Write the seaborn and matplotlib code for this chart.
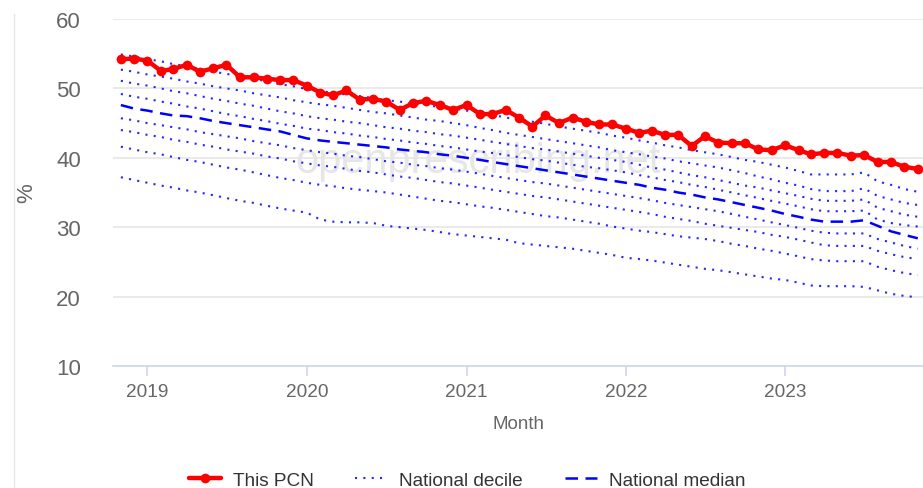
import matplotlib.pyplot as plt
import matplotlib.dates as mdates
from matplotlib.lines import Line2D
import pandas as pd
import seaborn as sns

# monthly points, Nov 2018 .. Nov 2023
months = pd.date_range("2018-11-01", "2023-11-01", freq="MS")

this_pcn = [54.2, 54.3, 54.0, 52.5, 52.8, 53.4, 52.4, 52.9, 53.4, 51.6, 51.6, 51.4, 51.2, 51.2,
            50.4, 49.4, 49.0, 49.7, 48.4, 48.5, 48.1, 46.9, 47.9, 48.2, 47.6, 46.9,
            47.6, 46.3, 46.3, 46.9, 45.8, 44.5, 46.1, 45.0, 45.8, 45.2, 44.8, 44.8,
            44.2, 43.6, 43.9, 43.3, 43.3, 41.7, 43.1, 42.2, 42.1, 42.1, 41.2, 41.1,
            41.8, 41.1, 40.5, 40.7, 40.7, 40.3, 40.4, 39.4, 39.4, 38.7, 38.4]

p90 = [54.9, 54.6, 54.2, 53.9, 53.5, 53.2, 52.8, 52.4, 52.1, 51.7, 51.4, 51.0, 50.6, 50.3,
       49.9, 49.6, 49.4, 49.1, 48.9, 48.6, 48.3, 48.1, 47.8, 47.6, 47.3, 47.1,
       46.8, 46.5, 46.2, 45.8, 45.5, 45.2, 44.9, 44.5, 44.2, 43.9, 43.6, 43.2,
       42.9, 42.5, 42.2, 41.8, 41.5, 41.1, 40.8, 40.5, 40.1, 39.7, 39.4, 39.0,
       38.6, 38.1, 37.6, 37.6, 37.6, 37.6, 37.9, 36.6, 36.1, 35.5, 35.1]
p80 = [52.7, 52.4, 52.0, 51.7, 51.4, 51.0, 50.7, 50.3, 50.0, 49.7, 49.3, 49.0, 48.7, 48.3,
       48.0, 47.7, 47.5, 47.2, 46.9, 46.6, 46.4, 46.1, 45.8, 45.5, 45.3, 45.0,
       44.7, 44.3, 44.0, 43.6, 43.3, 43.0, 42.7, 42.4, 42.1, 41.8, 41.5, 41.1,
       40.8, 40.5, 40.2, 39.9, 39.5, 39.2, 38.9, 38.6, 38.2, 37.8, 37.3, 36.9,
       36.4, 36.0, 35.5, 35.2, 35.2, 35.2, 35.6, 34.5, 34.0, 33.5, 33.2]
p70 = [51.1, 50.7, 50.4, 50.0, 49.6, 49.3, 48.9, 48.5, 48.2, 47.8, 47.5, 47.1, 46.7, 46.4,
       46.0, 45.7, 45.5, 45.2, 45.0, 44.7, 44.4, 44.2, 43.9, 43.7, 43.4, 43.2,
       42.9, 42.6, 42.3, 42.0, 41.7, 41.4, 41.2, 40.9, 40.6, 40.3, 40.0, 39.7,
       39.4, 39.0, 38.6, 38.3, 37.9, 37.5, 37.2, 36.8, 36.4, 36.0, 35.7, 35.3,
       34.9, 34.5, 34.1, 33.8, 33.8, 33.8, 34.0, 32.8, 32.3, 31.8, 31.5]
p60 = [49.2, 48.8, 48.5, 48.1, 47.8, 47.4, 47.1, 46.7, 46.3, 46.0, 45.6, 45.3, 44.9, 44.6,
       44.2, 44.0, 43.7, 43.5, 43.2, 43.0, 42.7, 42.5, 42.2, 42.0, 41.7, 41.5,
       41.2, 40.9, 40.7, 40.4, 40.1, 39.8, 39.6, 39.3, 39.0, 38.7, 38.5, 38.2,
       37.9, 37.5, 37.2, 36.8, 36.5, 36.1, 35.8, 35.4, 35.0, 34.6, 34.2, 33.8,
       33.4, 33.0, 32.6, 32.3, 32.3, 32.3, 32.4, 31.1, 30.6, 30.3, 30.1]
median = [47.6, 47.1, 46.8, 46.4, 46.1, 46.0, 45.7, 45.3, 45.0, 44.7, 44.4, 44.1, 43.8, 43.3,
          42.8, 42.5, 42.3, 42.1, 41.9, 41.7, 41.5, 41.2, 41.0, 40.8, 40.5, 40.3,
          40.0, 39.7, 39.4, 39.1, 38.8, 38.5, 38.2, 37.9, 37.6, 37.3, 37.0, 36.7,
          36.4, 36.1, 35.7, 35.4, 35.0, 34.7, 34.3, 34.0, 33.6, 33.2, 32.8, 32.4,
          31.9, 31.5, 31.1, 30.8, 30.8, 30.8, 31.0, 30.2, 29.4, 28.9, 28.4]
p40 = [45.7, 45.4, 45.0, 44.7, 44.4, 44.1, 43.7, 43.4, 43.1, 42.8, 42.4, 42.1, 41.8, 41.4,
       41.1, 40.8, 40.6, 40.3, 40.1, 39.8, 39.5, 39.3, 39.0, 38.8, 38.5, 38.3,
       38.0, 37.7, 37.4, 37.1, 36.8, 36.5, 36.3, 36.0, 35.7, 35.4, 35.1, 34.8,
       34.5, 34.2, 33.9, 33.5, 33.2, 32.9, 32.6, 32.3, 31.9, 31.5, 31.1, 30.7,
       30.3, 29.9, 29.5, 29.2, 29.1, 29.1, 29.1, 28.3, 27.8, 27.3, 26.9]
p30 = [44.0, 43.7, 43.3, 43.0, 42.6, 42.3, 41.9, 41.6, 41.2, 40.9, 40.6, 40.2, 39.9, 39.5,
       39.2, 38.9, 38.7, 38.4, 38.1, 37.9, 37.6, 37.3, 37.1, 36.8, 36.5, 36.3,
       36.0, 35.7, 35.4, 35.1, 34.8, 34.5, 34.3, 34.0, 33.7, 33.4, 33.1, 32.8,
       32.5, 32.2, 31.9, 31.5, 31.2, 30.9, 30.5, 30.2, 29.9, 29.6, 29.3, 28.9,
       28.6, 28.2, 27.8, 27.4, 27.3, 27.3, 27.3, 26.6, 26.1, 25.7, 25.4]
p20 = [41.6, 41.2, 40.8, 40.5, 40.1, 39.7, 39.4, 39.0, 38.6, 38.3, 37.9, 37.5, 37.1, 36.8,
       36.4, 36.1, 35.9, 35.6, 35.4, 35.2, 35.0, 34.7, 34.4, 34.1, 33.8, 33.6,
       33.3, 33.0, 32.8, 32.5, 32.2, 31.9, 31.6, 31.4, 31.1, 30.8, 30.5, 30.1,
       29.8, 29.5, 29.3, 29.0, 28.7, 28.5, 28.3, 28.0, 27.6, 27.3, 26.9, 26.6,
       26.2, 25.8, 25.4, 25.2, 25.1, 25.1, 25.1, 24.3, 23.8, 23.4, 23.1]
p10 = [37.2, 36.8, 36.4, 36.0, 35.7, 35.3, 35.0, 34.6, 34.2, 33.8, 33.5, 33.1, 32.7, 32.4,
       32.1, 31.1, 30.8, 30.7, 30.7, 30.6, 30.2, 30.0, 29.8, 29.6, 29.3, 29.0,
       28.8, 28.6, 28.4, 28.2, 27.7, 27.5, 27.3, 27.1, 26.9, 26.6, 26.3, 26.0,
       25.6, 25.4, 25.2, 24.9, 24.6, 24.3, 24.0, 23.8, 23.5, 23.2, 22.9, 22.6,
       22.4, 22.0, 21.6, 21.5, 21.5, 21.5, 21.4, 20.9, 20.4, 20.1, 19.9]

year_ticks = ["2019", "2020", "2021", "2022", "2023"]
y_ticks = [10, 20, 30, 40, 50, 60]

sns.set_style("white")
plt.rcParams["font.family"] = ["Liberation Sans", "DejaVu Sans"]

fig = plt.figure(figsize=(9.23, 4.89), dpi=100)
ax = fig.add_axes([113 / 923, 1 - 367 / 489, 810 / 923, 347 / 489])

ax.text(0.451, 0.59, "openprescribing.net", transform=ax.transAxes,
        ha="center", va="center", fontsize=30, color="#e6e6e6", zorder=0)

first = True
for vals in [p90, p80, p70, p60, p40, p30, p20, p10]:
    sns.lineplot(x=months, y=vals, ax=ax, color="#0000ff", alpha=0.85, lw=1.5,
                 linestyle=(0, (1, 3)), label="National decile" if first else None,
                 zorder=2)
    first = False
sns.lineplot(x=months, y=median, ax=ax, color="#0000ff", lw=1.8,
             linestyle=(0, (5, 3)), label="National median", zorder=3)
sns.lineplot(x=months, y=this_pcn, ax=ax, color="#ff0000", lw=3.2, marker="o",
             markersize=7, markeredgewidth=0, label="This PCN", zorder=4)

ax.set_ylim(10, 60)
ax.set_yticks(y_ticks)
ax.set_xlim(pd.Timestamp("2018-10-14"), pd.Timestamp("2023-11-13"))
ax.set_xticks([pd.Timestamp(y + "-01-01") for y in year_ticks])
ax.xaxis.set_major_formatter(mdates.DateFormatter("%Y"))

ax.yaxis.grid(True, color="#e6e6e6", lw=1.2)
ax.xaxis.grid(False)
ax.set_axisbelow(True)
for side in ["top", "right", "left"]:
    ax.spines[side].set_visible(False)
ax.spines["bottom"].set_color("#ccd6eb")
ax.spines["bottom"].set_linewidth(1.2)

ax.tick_params(axis="y", length=0, pad=23, labelsize=16, labelcolor="#666666")
ax.tick_params(axis="x", bottom=True, length=7, width=1.2, color="#ccd6eb",
               pad=5, labelsize=13.7, labelcolor="#666666")

ax.set_xlabel("Month", fontsize=13.5, color="#666666")
ax.xaxis.set_label_coords(0.5, -0.142)
ax.set_ylabel("%", fontsize=16, color="#666666")
ax.yaxis.set_label_coords(-(113 - 37) / 810, 0.5)

handles, labels = ax.get_legend_handles_labels()
order = [labels.index(n) for n in ["This PCN", "National decile", "National median"]]
ax.get_legend().remove()
fig.legend([handles[i] for i in order], [labels[i] for i in order],
           loc="center", bbox_to_anchor=(467 / 923, 1 - 481 / 489), ncol=3,
           frameon=False, fontsize=13.7, handlelength=1.7, handletextpad=0.6,
           columnspacing=2.2, labelcolor="#333333")

fig.add_artist(Line2D([14 / 923, 14 / 923], [0, 1 - 15 / 489], color="#e6e6e6", lw=1))

fig.savefig("out.png", dpi=100)
